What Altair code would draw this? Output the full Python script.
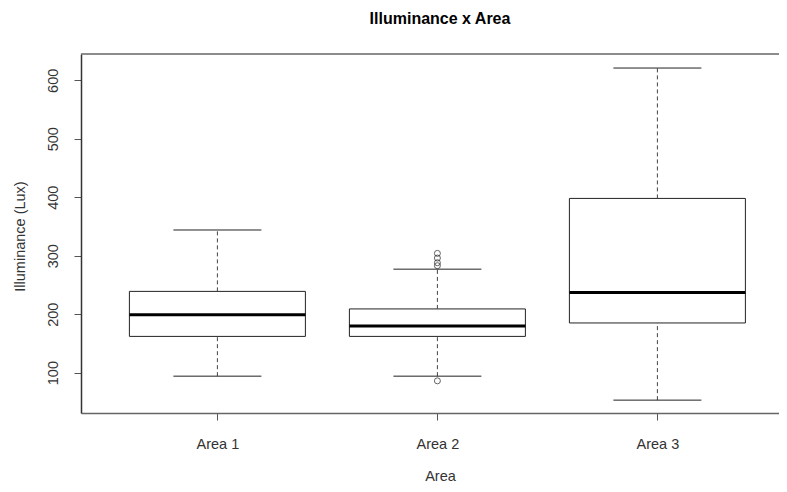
import altair as alt
import pandas as pd

areas = [1, 2, 3]
area_labels = ["Area 1", "Area 2", "Area 3"]
whisker_low = [94, 94, 53]
q1 = [162, 162, 185]
median = [199, 180, 237]
q3 = [239, 209, 398]
whisker_high = [344, 277, 621]

outlier_area = [2, 2, 2, 2, 2]
outlier_value = [283, 288, 296, 304, 86]

box_half = 0.4
cap_half = 0.2

boxes = pd.DataFrame({
    "area": areas,
    "label": area_labels,
    "lo": whisker_low,
    "q1": q1,
    "med": median,
    "q3": q3,
    "hi": whisker_high,
})
boxes["left"] = boxes["area"] - box_half
boxes["right"] = boxes["area"] + box_half
boxes["capl"] = boxes["area"] - cap_half
boxes["capr"] = boxes["area"] + cap_half

outliers = pd.DataFrame({"area": outlier_area, "value": outlier_value})

W, H = 698, 359
xdom = [0.38, 0.38 + W / 220.0]
ydom = [31, 645]

font = "Liberation Sans"
ink = "#222222"
fs = 14.5

xscale = alt.Scale(domain=xdom, nice=False, zero=False)
yscale = alt.Scale(domain=ydom, nice=False, zero=False)

xaxis = alt.Axis(
    values=[1, 2, 3], labelExpr="'Area ' + datum.value", grid=False,
    tickSize=7, tickColor="#555555", domainColor="#666666", domainWidth=1.5,
    labelFont=font, labelFontSize=fs, labelColor="#333333", labelPadding=17,
    title="Area", titleFont=font, titleFontSize=fs, titleFontWeight="normal",
    titleColor="#333333", titleX=359, titleY=67, titleBaseline="alphabetic",
    titleAnchor="middle",
)
yaxis = alt.Axis(
    values=[100, 200, 300, 400, 500, 600], grid=False,
    tickSize=7, tickColor="#555555", domainColor="#333333", domainWidth=1.5,
    labelFont=font, labelFontSize=fs, labelColor="#333333", labelAngle=270,
    labelAlign="center", labelBaseline="bottom", labelPadding=14,
    title="Illuminance (Lux)", titleFont=font, titleFontSize=fs,
    titleFontWeight="normal", titleColor="#333333", titleX=-61, titleY=182,
    titleBaseline="middle", titleAngle=270, titleAnchor="middle",
)

base = alt.Chart(boxes)

rect = base.mark_rect(fill="white", stroke=ink, strokeWidth=1).encode(
    x=alt.X("left:Q", scale=xscale, axis=xaxis),
    x2="right:Q",
    y=alt.Y("q1:Q", scale=yscale, axis=yaxis),
    y2="q3:Q",
)
med = base.mark_rule(color="black", strokeWidth=3).encode(
    x="left:Q", x2="right:Q", y="med:Q"
)
whisk_up = base.mark_rule(color="#444444", strokeWidth=1, strokeDash=[4, 3]).encode(
    x="area:Q", y="q3:Q", y2="hi:Q"
)
whisk_lo = base.mark_rule(color="#444444", strokeWidth=1, strokeDash=[4, 3]).encode(
    x="area:Q", y="lo:Q", y2="q1:Q"
)
cap_up = base.mark_rule(color=ink, strokeWidth=1).encode(
    x="capl:Q", x2="capr:Q", y="hi:Q"
)
cap_lo = base.mark_rule(color=ink, strokeWidth=1).encode(
    x="capl:Q", x2="capr:Q", y="lo:Q"
)
pts = alt.Chart(outliers).mark_point(
    shape="circle", filled=False, color=ink, size=36, strokeWidth=1
).encode(x="area:Q", y="value:Q")

top_line = alt.Chart(pd.DataFrame({"a": [0]})).mark_rule(
    color="#666666", strokeWidth=1.5
).encode(x=alt.value(0), x2=alt.value(W), y=alt.value(0))

chart = alt.layer(
    rect, whisk_up, whisk_lo, cap_up, cap_lo, med, pts, top_line
).properties(
    width=W, height=H,
    background="white",
    title=alt.TitleParams(
        "Illuminance x Area", font=font, fontSize=16, fontWeight="bold",
        color="black", anchor="middle", dx=10, offset=26,
    ),
    autosize=alt.AutoSizeParams(type="none"),
    padding={"left": 73, "top": 46, "right": 0, "bottom": 71},
).configure_view(strokeWidth=0)

chart.save("out.html", embed_options={"renderer": "svg", "actions": False})
